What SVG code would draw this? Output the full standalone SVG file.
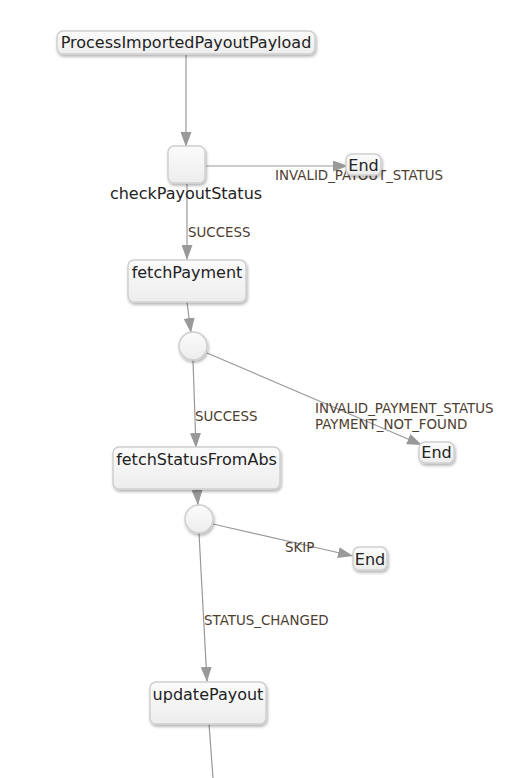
<svg xmlns="http://www.w3.org/2000/svg" width="521" height="778" viewBox="0 0 521 778">
<defs>
<linearGradient id="g" x1="0" y1="0" x2="0" y2="1">
<stop offset="0" stop-color="#fbfbfb"/>
<stop offset="1" stop-color="#ededed"/>
</linearGradient>
<filter id="sh" x="-20%" y="-20%" width="140%" height="160%">
<feDropShadow dx="1" dy="2" stdDeviation="1.5" flood-color="#000" flood-opacity="0.3"/>
</filter>
<marker id="arr" markerUnits="userSpaceOnUse" markerWidth="15" markerHeight="11" refX="15" refY="5.5" orient="auto">
<path d="M0,0 L15,5.5 L0,11 z" fill="#999"/>
</marker>
</defs>
<style>
.box{fill:url(#g);stroke:#cfcfcf;stroke-width:1.5;filter:url(#sh)}
.nl{font-family:"DejaVu Sans",sans-serif;font-size:16px;fill:#222;text-anchor:middle}
.el{font-family:"DejaVu Sans",sans-serif;font-size:13.4px;fill:#4d4030}
.e{stroke:#999;stroke-width:1.2;fill:none;marker-end:url(#arr)}
.e2{stroke:#999;stroke-width:1.2;fill:none}
</style>
<rect width="521" height="778" fill="#fff"/>
<g id="edges">
<line class="e" x1="186" y1="55" x2="186" y2="147"/>
<line class="e" x1="206" y1="166" x2="348" y2="166"/>
<line class="e" x1="187" y1="184" x2="187" y2="260"/>
<line class="e" x1="187" y1="302" x2="191" y2="333"/>
<line class="e" x1="207" y1="353" x2="422" y2="445"/>
<line class="e" x1="193" y1="360" x2="196" y2="448"/>
<line class="e" x1="197" y1="489" x2="198" y2="505"/>
<line class="e" x1="213" y1="524" x2="353" y2="556"/>
<line class="e" x1="199" y1="533" x2="207" y2="682"/>
<line class="e2" x1="209" y1="724" x2="213" y2="778"/>
<text class="el" x="275" y="180">INVALID_PAYOUT_STATUS</text>
<text class="el" x="188" y="237">SUCCESS</text>
<text class="el" x="315" y="413">INVALID_PAYMENT_STATUS</text>
<text class="el" x="315" y="429">PAYMENT_NOT_FOUND</text>
<text class="el" x="195" y="421">SUCCESS</text>
<text class="el" x="285" y="552">SKIP</text>
<text class="el" x="204" y="625">STATUS_CHANGED</text>
</g>
<g id="n-start">
<rect class="box" x="57" y="31" width="258" height="23" rx="6"/>
<text class="nl" x="186" y="48">ProcessImportedPayoutPayload</text>
</g>
<g id="n-checkPayoutStatus">
<rect class="box" x="168" y="146" width="37" height="37" rx="6"/>
<text class="nl" x="186" y="199">checkPayoutStatus</text>
</g>
<g id="n-end1">
<rect class="box" x="346" y="154" width="35" height="21" rx="6"/>
<text class="nl" x="363.5" y="171">End</text>
</g>
<g id="n-fetchPayment">
<rect class="box" x="128" y="260" width="118" height="42" rx="6"/>
<text class="nl" x="187" y="278">fetchPayment</text>
</g>
<g id="n-gw1">
<circle class="box" cx="193" cy="346" r="14"/>
</g>
<g id="n-end2">
<rect class="box" x="419" y="442" width="35" height="21" rx="6"/>
<text class="nl" x="436.5" y="458">End</text>
</g>
<g id="n-fetchStatusFromAbs">
<rect class="box" x="113" y="447" width="167" height="42" rx="6"/>
<text class="nl" x="196.5" y="465">fetchStatusFromAbs</text>
</g>
<g id="n-gw2">
<circle class="box" cx="199" cy="519" r="14"/>
</g>
<g id="n-end3">
<rect class="box" x="353" y="547" width="34" height="23" rx="6"/>
<text class="nl" x="370" y="565">End</text>
</g>
<g id="n-updatePayout">
<rect class="box" x="150" y="682" width="116" height="42" rx="6"/>
<text class="nl" x="208" y="700">updatePayout</text>
</g>
</svg>
